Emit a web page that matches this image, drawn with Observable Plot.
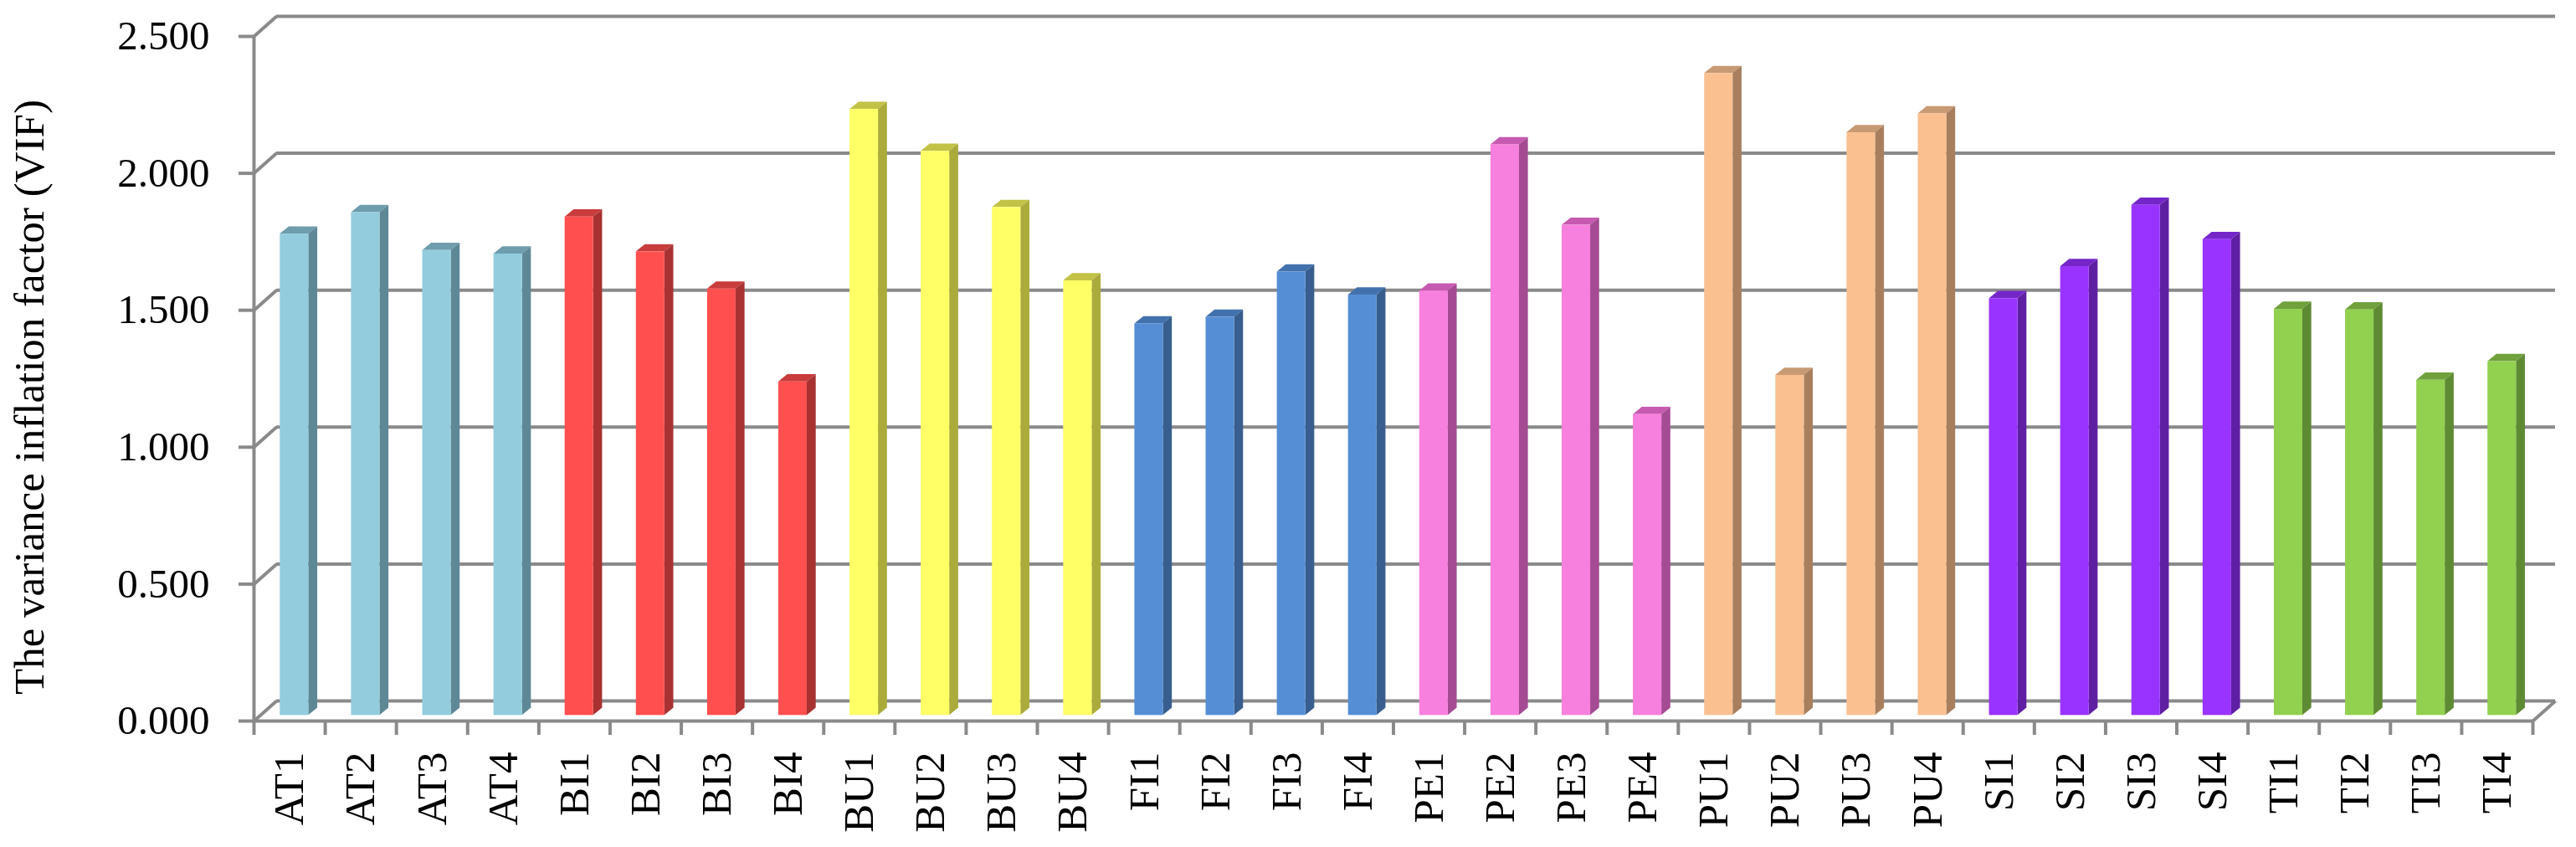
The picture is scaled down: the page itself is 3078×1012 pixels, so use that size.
<!DOCTYPE html>
<html>
<head>
<meta charset="utf-8">
<script src="https://cdn.jsdelivr.net/npm/d3@7"></script>
<script src="https://cdn.jsdelivr.net/npm/@observablehq/plot@0.6"></script>
<style>
  html, body { margin: 0; padding: 0; background: #ffffff; }
  #chart { width: 3078px; height: 1012px; }
</style>
</head>
<body>
<div id="chart"></div>
<script>
// ---------- data ----------
const categories = ["AT1","AT2","AT3","AT4","BI1","BI2","BI3","BI4","BU1","BU2","BU3","BU4",
  "FI1","FI2","FI3","FI4","PE1","PE2","PE3","PE4","PU1","PU2","PU3","PU4",
  "SI1","SI2","SI3","SI4","TI1","TI2","TI3","TI4"];
const values = [1.758, 1.836, 1.698, 1.685, 1.820, 1.693, 1.557, 1.218,
  2.213, 2.060, 1.855, 1.587, 1.430, 1.454, 1.619, 1.535,
  1.550, 2.084, 1.790, 1.099, 2.344, 1.242, 2.128, 2.197,
  1.522, 1.639, 1.863, 1.738, 1.483, 1.481, 1.224, 1.292];
const constructs = ["AT","BI","BU","FI","PE","PU","SI","TI"];
const frontColors = ["#93CDDD","#FF4F4F","#FFFF66","#558ED5","#F77FDD","#FAC090","#9933FF","#92D050"];
const sideColors  = ["#5F8897","#A83232","#ABAB3C","#375E8E","#A54B93","#A87F5E","#5F1FA3","#5E8A33"];
const topColors   = ["#6E9DAD","#C83C3C","#C2C247","#4272AE","#C65AB0","#C79A74","#7426C9","#70A13C"];
const yTicks = [0, 0.5, 1, 1.5, 2, 2.5];
const yTitle = "The variance inflation factor (VIF)";

// ---------- layout ----------
const W = 3078, H = 1012;
const mL = 303, mR = 52, mT = 43, mB = 151;
const nCat = categories.length;
const yMax = 2.5;
const kx = (W - mL - mR) / nCat;       // px per category
const ky = (H - mT - mB) / yMax;       // px per unit
const wallDX = 27 / kx, wallDY = 24 / ky;   // depth of the floor/wall
const barX0 = 0.368, barX1 = 0.768;          // front face within category
const capDX = 10.7 / kx, capDY = 8.7 / ky;   // depth of each column
const barLift = 6.7;                          // px: columns stand mid-depth

const grid = "#8A8A8A";
const font = "'Liberation Serif', 'Times New Roman', serif";

const groupIndex = c => constructs.indexOf(c.replace(/\d+$/, ""));

const bars = categories.map((c, i) => ({i, c, v: values[i], g: groupIndex(c)}));
const sides = bars.flatMap(b => {
  const xr = b.i + barX1;
  return [
    {key: b.c, x: xr, y1: 0, y2: b.v, fill: sideColors[b.g]},
    {key: b.c, x: xr + capDX, y1: capDY, y2: b.v + capDY, fill: sideColors[b.g]}
  ];
});
const caps = bars.flatMap(b => {
  const xl = b.i + barX0, xr = b.i + barX1, f = topColors[b.g];
  return [
    {key: b.c, x: xl, y1: b.v, y2: b.v, fill: f},
    {key: b.c, x: xl + capDX, y1: b.v, y2: b.v + capDY, fill: f},
    {key: b.c, x: xr, y1: b.v, y2: b.v + capDY, fill: f},
    {key: b.c, x: xr + capDX, y1: b.v + capDY, y2: b.v + capDY, fill: f}
  ];
});

const chart = Plot.plot({
  width: W, height: H,
  marginLeft: mL, marginRight: mR, marginTop: mT, marginBottom: mB,
  x: {domain: [0, nCat], axis: null},
  y: {domain: [0, yMax], axis: null},
  color: {type: "identity"},
  style: {fontFamily: font, background: "#ffffff", color: "#000000"},
  marks: [
    // wall & floor
    Plot.link(yTicks, {x1: 0, y1: d => d, x2: wallDX, y2: d => d + wallDY, stroke: grid, strokeWidth: 4}),
    Plot.ruleY(yTicks, {y: d => d + wallDY, x1: wallDX, x2: nCat + wallDX, stroke: grid, strokeWidth: 4}),
    Plot.link([0], {x1: nCat, y1: 0, x2: nCat + wallDX, y2: wallDY, stroke: grid, strokeWidth: 4}),
    Plot.ruleY([0], {x1: 0, x2: nCat, stroke: grid, strokeWidth: 4}),
    Plot.ruleX([0], {y1: 0, y2: yMax, stroke: grid, strokeWidth: 4}),
    // columns
    Plot.area(caps, {x1: "x", y1: "y1", y2: "y2", z: "key", fill: "fill", dy: -barLift}),
    Plot.area(sides, {x1: "x", y1: "y1", y2: "y2", z: "key", fill: "fill", dy: -barLift}),
    Plot.rect(bars, {x1: d => d.i + barX0, x2: d => d.i + barX1, y1: 0, y2: "v",
      fill: d => frontColors[d.g], dy: -barLift}),
    // axes
    Plot.axisY({ticks: yTicks, tickSize: 18, tickPadding: 35, stroke: grid, strokeWidth: 4,
      tickFormat: d3.format(".3f"), fontSize: 49, fontFamily: font, label: null}),
    Plot.axisX({ticks: d3.range(nCat + 1), tickSize: 17, tickFormat: () => "",
      stroke: grid, strokeWidth: 4, label: null}),
    Plot.text(categories, {x: (d, i) => i + 0.5, y: 0, text: d => d, rotate: -90,
      textAnchor: "end", dy: 37, fontSize: 51, fill: "#000000"}),
    Plot.text([yTitle], {frameAnchor: "left", text: d => d, rotate: -90, textAnchor: "middle",
      dx: -268, dy: 22, fontSize: 51, fill: "#000000"})
  ]
});
document.getElementById("chart").appendChild(chart);
</script>
</body>
</html>
